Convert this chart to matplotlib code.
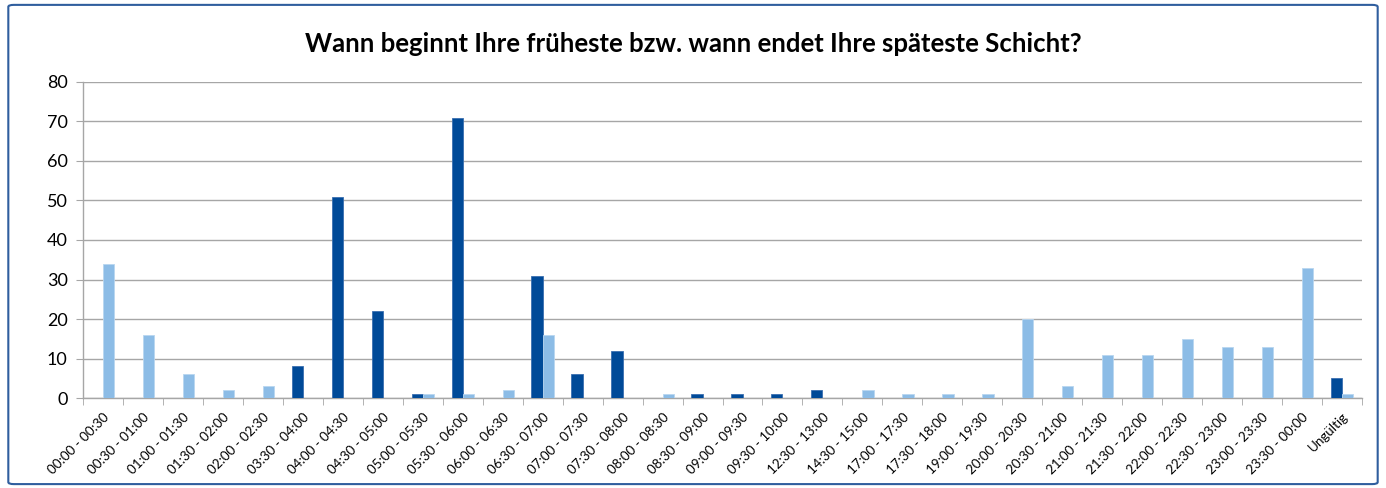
import matplotlib
matplotlib.use("Agg")
import matplotlib.pyplot as plt
import numpy as np
from matplotlib.patches import FancyBboxPatch

categories = ["00:00 - 00:30", "00:30 - 01:00", "01:00 - 01:30", "01:30 - 02:00", "02:00 - 02:30",
              "03:30 - 04:00", "04:00 - 04:30", "04:30 - 05:00", "05:00 - 05:30", "05:30 - 06:00",
              "06:00 - 06:30", "06:30 - 07:00", "07:00 - 07:30", "07:30 - 08:00", "08:00 - 08:30",
              "08:30 - 09:00", "09:00 - 09:30", "09:30 - 10:00", "12:30 - 13:00", "14:30 - 15:00",
              "17:00 - 17:30", "17:30 - 18:00", "19:00 - 19:30", "20:00 - 20:30", "20:30 - 21:00",
              "21:00 - 21:30", "21:30 - 22:00", "22:00 - 22:30", "22:30 - 23:00", "23:00 - 23:30",
              "23:30 - 00:00", "Ungültig"]
beginn = [0, 0, 0, 0, 0, 8, 51, 22, 1, 71, 0, 31, 6, 12, 0, 1, 1, 1, 2, 0,
          0, 0, 0, 0, 0, 0, 0, 0, 0, 0, 0, 5]
ende = [34, 16, 6, 2, 3, 0, 0, 0, 1, 1, 2, 16, 0, 0, 1, 0, 0, 0, 0, 2,
        1, 1, 1, 20, 3, 11, 11, 15, 13, 13, 33, 1]
title = "Wann beginnt Ihre früheste bzw. wann endet Ihre späteste Schicht?"

plt.rcParams['font.family'] = ['Lato', 'DejaVu Sans']

fig = plt.figure(figsize=(13.86, 4.88), dpi=100)
ax = fig.add_axes([0.0599, 0.1844, 0.9228, 0.6476])

x = np.arange(len(categories))
w = 0.28
ax.bar(x - w / 2, beginn, width=w, color='#004A98', edgecolor='#3A6FB0', linewidth=0.6, zorder=3)
ax.bar(x + w / 2, ende, width=w, color='#8CBCE6', edgecolor='#B8D6F0', linewidth=0.6, zorder=3)

ax.set_xlim(-0.5, len(categories) - 0.5)
ax.set_ylim(0, 80)
ax.set_yticks(np.arange(0, 81, 10))
ax.yaxis.grid(True, color='#A6A6A6', linewidth=1.0, zorder=0)
ax.set_axisbelow(True)
ax.tick_params(axis='y', labelsize=13, length=5, color='#A6A6A6', pad=6)

ax.set_xticks(x)
ax.set_xticklabels(categories, rotation=45, ha='right', rotation_mode='anchor', fontsize=9.6)
ax.tick_params(axis='x', which='major', length=0, pad=9)
ax.set_xticks(np.arange(-0.5, len(categories), 1), minor=True)
ax.tick_params(axis='x', which='minor', length=5, color='#A6A6A6')

for s in ['top', 'right']:
    ax.spines[s].set_visible(False)
for s in ['left', 'bottom']:
    ax.spines[s].set_color('#A6A6A6')
    ax.spines[s].set_linewidth(1.0)

fig.text(0.5, 0.91, title, ha='center', va='center', fontsize=18.5, fontweight='bold')

border = FancyBboxPatch((0.006, 0.008), 0.988, 0.982, boxstyle="round,pad=0,rounding_size=0.004",
                        transform=fig.transFigure, fill=False, edgecolor='#2F5E9E', linewidth=1.5)
fig.patches.append(border)

fig.savefig("out.png", dpi=100)
